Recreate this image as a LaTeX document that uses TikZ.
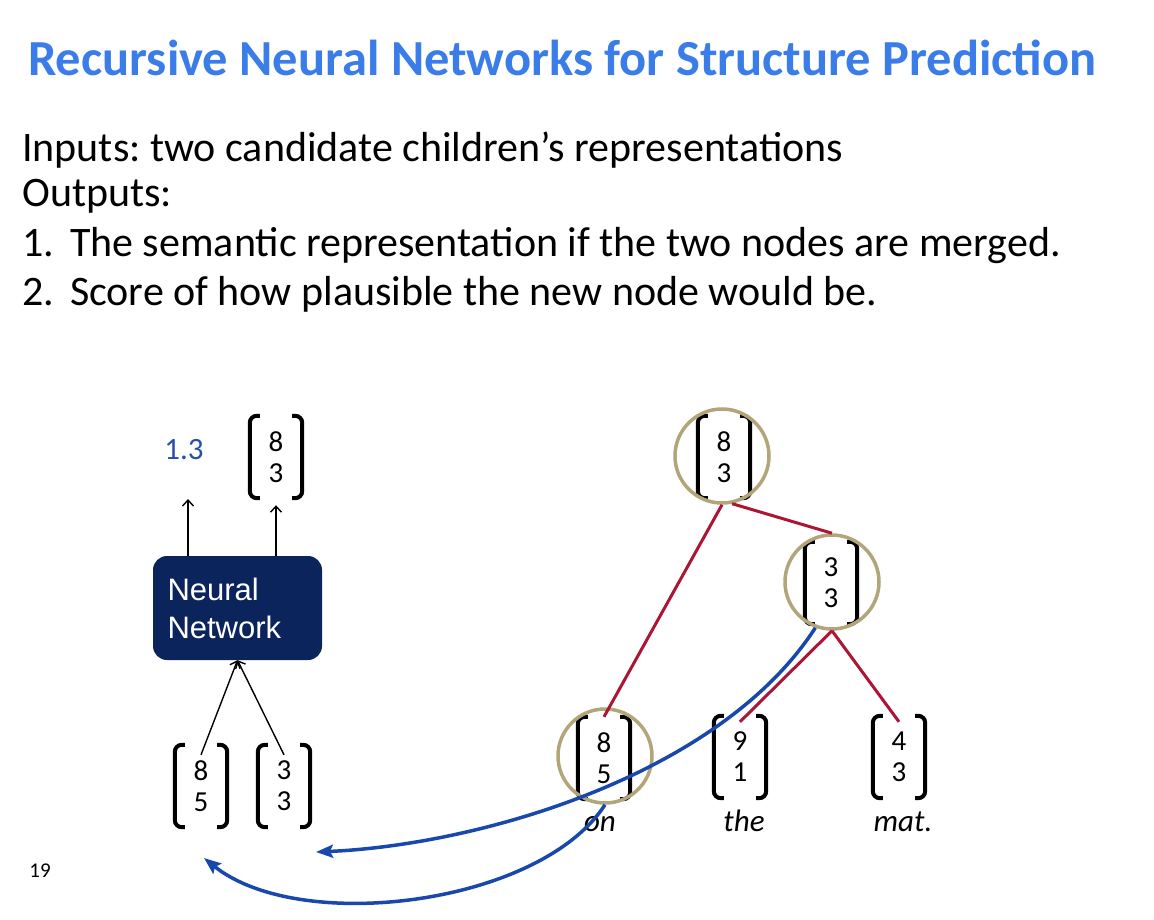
\documentclass[tikz,border=0pt]{standalone}
\usepackage{fontspec}
\setmainfont{Carlito}
\newfontfamily\arialf{Liberation Sans}
\usetikzlibrary{arrows.meta}
\definecolor{titleblue}{RGB}{58,125,232}
\definecolor{navy}{RGB}{12,36,92}
\definecolor{ringtan}{RGB}{178,165,122}
\definecolor{crim}{RGB}{172,22,52}
\definecolor{arrblue}{RGB}{24,72,172}
\definecolor{scoreblue}{RGB}{40,80,170}
\frenchspacing
\newcommand\vecnode[5]{%
  \node[vecbox] (#1) at (#2,#3) {#4\\#5};
  \draw[brk] ([xshift=10pt]#1.north west) -- (#1.north west) -- (#1.south west) -- ([xshift=10pt]#1.south west);
  \draw[brk] ([xshift=-10pt]#1.north east) -- (#1.north east) -- (#1.south east) -- ([xshift=-10pt]#1.south east);}
\begin{document}
\begin{tikzpicture}[x=1pt,y=-1pt,
  vecbox/.style={minimum width=52pt,minimum height=82pt,inner sep=0pt,align=center,font=\fontsize{29}{31}\selectfont},
  brk/.style={line width=4pt,rounded corners=7pt},
  ring/.style={circle,draw=ringtan,line width=3.5pt,minimum size=94pt,inner sep=0pt},
  redline/.style={draw=crim,line width=3pt},
  blueline/.style={draw=arrblue,line width=3.5pt,-{Stealth[length=17pt,width=13pt,inset=3pt]}},
  arr/.style={draw=black,line width=1.4pt,-{Straight Barb[length=6pt,width=11pt]}},
  nnbox/.style={fill=navy,rounded corners=14pt,minimum width=169pt,minimum height=104pt,text width=140pt,align=left,inner sep=0pt,text=white,font=\arialf\fontsize{31}{38}\selectfont},
  word/.style={anchor=base,font=\itshape\fontsize{31}{33}\selectfont},
  txt/.style={anchor=base west,inner sep=0pt,font=\fontsize{42}{46}\selectfont}]
\useasboundingbox[fill=white] (0,0) rectangle (1154,920);
% title and text
\node[anchor=base west,inner sep=0pt,text=titleblue,font=\bfseries\fontsize{50.5}{54}\selectfont] (title) at (28,76) {Recursive Neural Networks for Structure Prediction};
\node[txt] (l1) at (22,162) {Inputs: two candidate children’s representations};
\node[txt] (l2) at (22,207) {Outputs:};
\node[txt] (l3) at (22,257) {1.\hspace{16pt}The semantic representation if the two nodes are merged.};
\node[txt] (l4) at (22,305) {2.\hspace{16pt}Score of how plausible the new node would be.};
\node[anchor=base,font=\fontsize{21}{22}\selectfont] (pg) at (40,877) {19};
% left: neural network
\node[nnbox] (nn) at (237.5,608) {Neural\\Network};
\node[text=scoreblue,font=\fontsize{31}{33}\selectfont] (score) at (184,450) {1.3};
\vecnode{o83}{276}{457}{8}{3}
\vecnode{in85}{201}{786}{8}{5}
\vecnode{in33}{284}{786}{3}{3}
\draw[arr,shorten >=49pt] ([xshift=4pt]nn.north -| score) -- ([xshift=4pt]score.center);
\draw[arr,shorten >=7pt] (nn.north -| o83) -- (o83.south);
\draw[arr] ([yshift=-10pt]in85.north) -- (nn.south);
\draw[arr] ([yshift=-10pt]in33.north) -- (nn.south);
% right: tree
\vecnode{t83}{724}{457}{8}{3}
\vecnode{t33}{831}{583}{3}{3}
\vecnode{t85}{604}{758}{8}{5}
\vecnode{t91}{740}{757}{9}{1}
\vecnode{t43}{899}{757}{4}{3}
\node[ring] (r1) at (722,456) {};
\node[ring] (r2) at (832,582) {};
\node[ring] (r3) at (605,756) {};
\node[word] (won) at (600,831) {on};
\node[word] (wthe) at (744,831) {the};
\node[word] (wmat) at (903,831) {mat.};
\draw[redline] (r1.south) -- (t85.north);
\draw[redline] (r1.-78) -- (r2.north);
\draw[redline] (r2.south) -- ([yshift=-6pt]t91.north);
\draw[redline] (r2.south) -- ([yshift=-6pt]t43.north);
% blue arrows
\coordinate (e1) at (316,852);
\coordinate (e2) at (204,858);
\draw[blueline] (r2.-110) .. controls (720,775) and (480,845) .. (e1);
\draw[blueline] (r3.south) .. controls (540,905) and (300,935) .. (e2);
\end{tikzpicture}
\end{document}
